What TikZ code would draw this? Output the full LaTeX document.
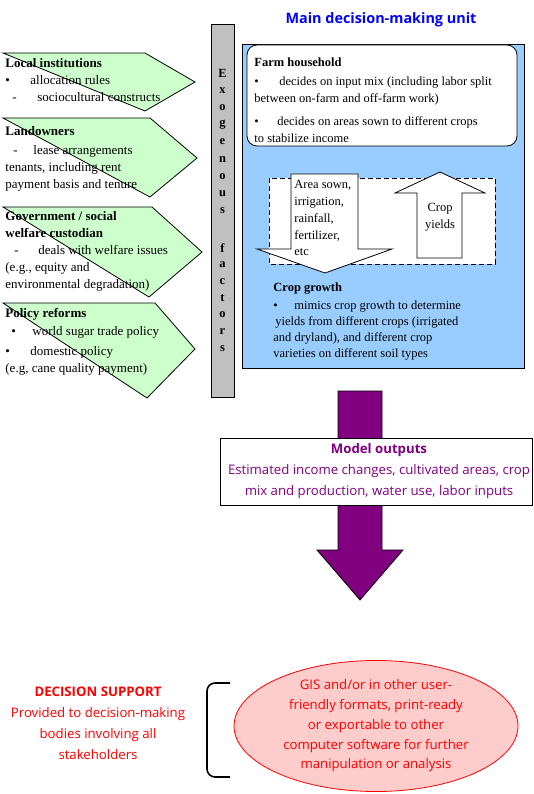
\documentclass[tikz,border=0pt]{standalone}
\usepackage{fontspec}
\setmainfont{Liberation Serif}
\newfontfamily\comicfont{Open Sans}
\usetikzlibrary{positioning,shapes.geometric}
\definecolor{factorgreen}{RGB}{204,255,204}
\definecolor{unitblue}{RGB}{153,204,255}
\definecolor{exogray}{RGB}{192,192,192}
\definecolor{outpurple}{RGB}{128,0,128}
\definecolor{supportpink}{RGB}{255,204,204}
\definecolor{titleblue}{RGB}{0,0,255}
\definecolor{supportred}{RGB}{255,0,0}
\tikzset{
  factor/.style    ={draw=black,fill=factorgreen,line width=0.8pt},
  blockarrow/.style={draw=black,line width=0.8pt,line join=miter},
  boxtext/.style   ={inner sep=0pt,anchor=north west,align=left,font=\fontsize{12.5}{17}\selectfont},
  factortext/.style={boxtext,font=\fontsize{13}{17}\selectfont},
  sanstext/.style  ={inner sep=0pt,align=center,font=\comicfont\fontsize{13.2}{21}\selectfont},
}
\newcommand{\tabmark}[2]{\makebox[#1][l]{#2}}

\begin{document}
\begin{tikzpicture}[x=1pt,y=-1pt,line width=0.8pt]
  \useasboundingbox (0,0) rectangle (534,794);
  % exogenous factors (left column)
  \draw[factor] (3,53) -- (145,53) -- (195,82) -- (145,111) -- cycle;
  \draw[factor] (3,118) -- (150,118) -- (197,158) -- (150,197) -- cycle;
  \draw[factor] (3,207) -- (152,207) -- (202,252) -- (149,297) -- cycle;
  \draw[factor] (3,303) -- (155,303) -- (195,349) -- (147,398) -- cycle;
  \node[factortext] (local) at (5,58) {\textbf{Local institutions}\\
    \tabmark{25pt}{\textbullet}allocation rules\\
    \hspace{7pt}\tabmark{25pt}{-}sociocultural constructs};
  \node[factortext] (land) at (5,126) {\textbf{Landowners}\\[2pt]
    \hspace{8pt}\tabmark{20pt}{-}lease arrangements\\
    tenants, including rent\\
    payment basis and tenure};
  \node[factortext] (gov) at (5,211) {\textbf{Government / social}\\
    \textbf{welfare custodian}\\
    \hspace{9pt}\tabmark{24pt}{-}deals with welfare issues\\
    (e.g., equity and\\
    environmental degradation)};
  \node[factortext] (policy) at (5,308) {\textbf{Policy reforms}\\[1pt]
    \hspace{6pt}\tabmark{21pt}{\textbullet}world sugar trade policy\\[3pt]
    \tabmark{25pt}{\textbullet}domestic policy\\
    (e.g, cane quality payment)};
  \draw[fill=exogray] (211,24) rectangle (234,397);
  \foreach \c [count=\i] in {E,x,o,g,e,n,o,u,s}
    \node[font=\bfseries\fontsize{12.5}{15}\selectfont,inner sep=0pt] (exoa-\i) at (222.5,{73+(\i-1)*17.25}) {\c};
  \foreach \c [count=\i] in {f,a,c,t,o,r,s}
    \node[font=\bfseries\fontsize{12.5}{15}\selectfont,inner sep=0pt] (exob-\i) at (222.5,{248+(\i-1)*16.7}) {\c};
  % main decision-making unit
  \node[font=\comicfont\bfseries\fontsize{14.4}{17}\selectfont,text=titleblue,inner sep=0pt] (title) at (381,20) {Main decision-making unit};
  \draw[fill=unitblue] (242,44) rectangle (524,368);
  \draw[fill=white,rounded corners=10pt] (247,45) rectangle (517,146);
  \node[boxtext] (farm) at (254,57) {\textbf{Farm household}\\[2pt]
    \tabmark{25pt}{\textbullet}decides on input mix (including labor split\\
    between on-farm and off-farm work)\\[6pt]
    \tabmark{23pt}{\textbullet}decides on areas sown to different crops\\
    to stabilize income};
  \draw[dashed,dash pattern=on 5pt off 3pt,fill=white] (269,178) rectangle (495,264);
  \draw[blockarrow,fill=white] (291,174) -- (358,174) -- (358,249) -- (392,249) -- (325,273) -- (257,249) -- (291,249) -- cycle;
  \draw[blockarrow,fill=white] (417,258) -- (462,258) -- (462,193) -- (485,193) -- (440,172) -- (395,193) -- (417,193) -- cycle;
  \node[boxtext,font=\fontsize{12.5}{16.8}\selectfont] (inputs) at (294,180) {Area sown,\\irrigation,\\rainfall,\\fertilizer,\\etc};
  \node[inner sep=0pt,align=center,font=\fontsize{12.5}{17}\selectfont] (yields) at (440,217) {Crop\\yields};
  \node[boxtext,font=\fontsize{12.5}{16}\selectfont] (crop) at (273,282) {\textbf{Crop growth}\\[2pt]
    \tabmark{21pt}{\textbullet}mimics crop growth to determine\\
    \hspace{2pt}yields from different crops (irrigated\\
    and dryland), and different crop\\
    varieties on different soil types};
  % model outputs
  \draw[blockarrow,fill=outpurple] (338,391) -- (382,391) -- (382,550) -- (403,550) -- (360,600) -- (317,550) -- (338,550) -- cycle;
  \draw[fill=white] (220,438) rectangle (532,505);
  \node[sanstext,text=outpurple] (outputs) at (379,471.5) {\textbf{Model outputs}\\
    Estimated income changes, cultivated areas, crop\\
    mix and production, water use, labor inputs};
  % decision support
  \node[sanstext,text=supportred] (support) at (98,723.5) {\textbf{DECISION SUPPORT}\\
    Provided to decision-making\\
    bodies involving all\\
    stakeholders};
  \draw[line width=1.6pt,rounded corners=8pt] (230,683) -| (207,777) -- (230,777);
  \node[ellipse,draw=supportred,fill=supportpink,minimum width=284pt,minimum height=131pt,
        sanstext,font=\comicfont\fontsize{13.2}{19.75}\selectfont,text=supportred] (gis) at (376,726)
    {GIS and/or in other user-\\
     friendly formats, print-ready\\
     or exportable to other\\
     computer software for further\\
     manipulation or analysis};
\end{tikzpicture}
\end{document}
